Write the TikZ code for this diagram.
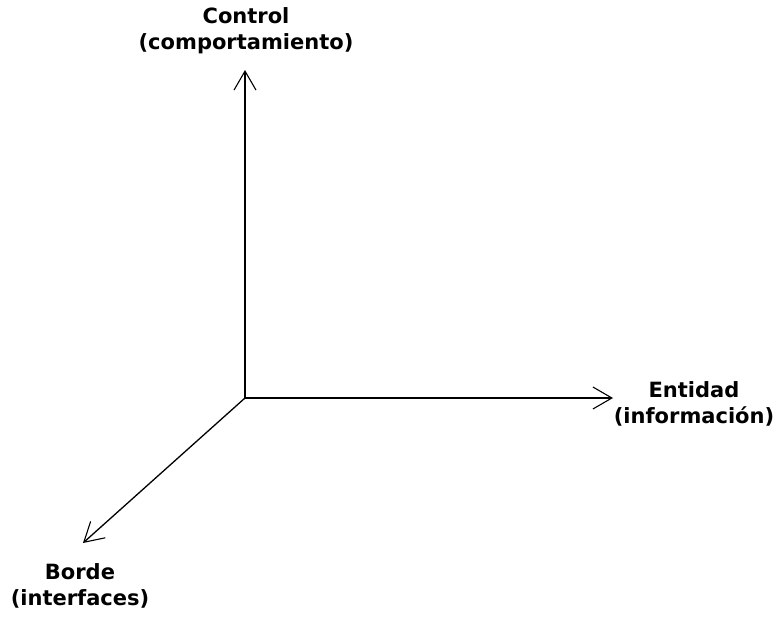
\documentclass[tikz,border=0pt]{standalone}
\usepackage{fontspec}
\setmainfont{DejaVu Sans}
\usetikzlibrary{arrows.meta}
\begin{document}
\begin{tikzpicture}[x=1pt,y=-1pt,
  axis/.style={line width=1.3pt, -{Straight Barb[length=19pt,width=22pt,line width=1.1pt]}},
  axislabel/.style={align=center, inner sep=0pt,
    font=\fontsize{21}{26}\selectfont\bfseries}]
  \useasboundingbox (0,0) rectangle (778,620);
  % origin and axis ends
  \coordinate (o) at (245,398);
  \coordinate (up) at (245,70);
  \coordinate (right) at (613,398);
  \coordinate (down) at (83,543);
  % axes
  \draw[axis] (o) -- (up);
  \draw[axis] (o) -- (right);
  \draw[axis] (o) -- (down);
  % labels
  \node[axislabel] (control) at (246,31) {Control\\(comportamiento)};
  \node[axislabel] (entidad) at (694,404) {Entidad\\(información)};
  \node[axislabel] (borde) at (80,586) {Borde\\(interfaces)};
\end{tikzpicture}
\end{document}
